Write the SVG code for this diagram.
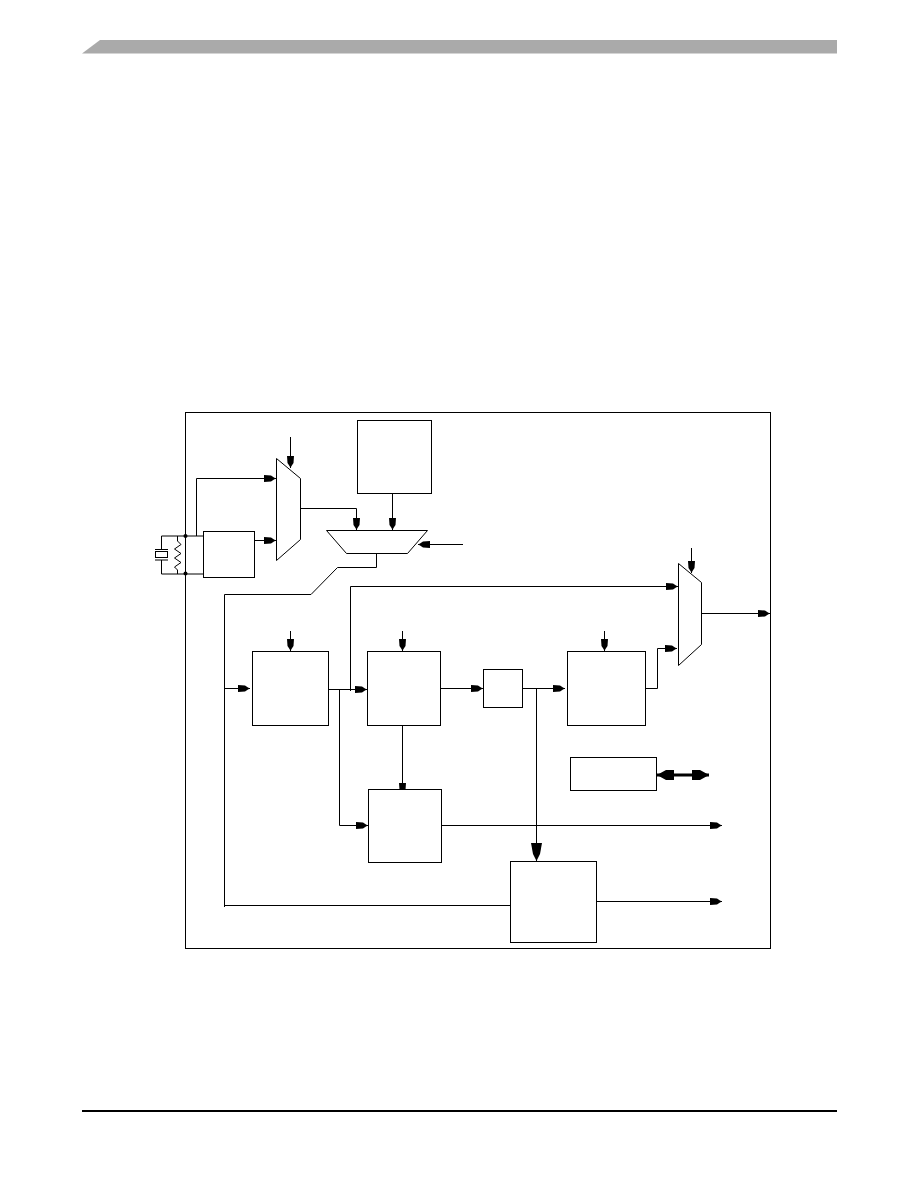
<svg xmlns="http://www.w3.org/2000/svg" width="918" height="1188" viewBox="0 0 918 1188">
<style>
.b{fill:#fff;stroke:#000;stroke-width:1}
.c{fill:none;stroke:#000;stroke-width:1}
.a{marker-end:url(#h)}
.big{marker-end:url(#hb)}
.dbl{fill:none;stroke:#000;stroke-width:3;marker-start:url(#hd);marker-end:url(#hd)}
</style>
<defs>
<marker id="h" markerUnits="userSpaceOnUse" markerWidth="14" markerHeight="10" viewBox="-12 -5 14 10" refX="0" refY="0" orient="auto" overflow="visible"><polygon points="-12,-3.5 -5,-3 -2,-1 0,0 -2,1 -5,3 -12,3.5" fill="#000"/></marker>
<marker id="hb" markerUnits="userSpaceOnUse" markerWidth="20" markerHeight="12" viewBox="-18 -6 20 12" refX="0" refY="0" orient="auto" overflow="visible"><polygon points="-18,-5.5 -7,-3.5 0,0 -7,3.5 -18,5.5" fill="#000"/></marker>
<marker id="hd" markerUnits="userSpaceOnUse" markerWidth="19" markerHeight="12" viewBox="-17 -6 19 12" refX="0" refY="0" orient="auto-start-reverse" overflow="visible"><polygon points="-17,-5 -9,-5 0,0 -9,5 -17,5" fill="#000"/></marker>
</defs>
<rect width="918" height="1188" fill="#fff"/>
<g id="header"><polygon points="82,53.5 100,40 837,40 837,53.5" fill="#aaaaaa"/></g>
<g id="footer"><rect x="82" y="1110" width="755" height="2" fill="#000"/></g>
<g id="frame"><rect class="b" x="185.5" y="412.5" width="585" height="536"/></g>
<g id="connectors">
<path class="c a" d="M290.5 437V468"/>
<path class="c a" d="M196.5 536V478.5H276"/>
<path class="c a" d="M254.5 540.5H276"/>
<path class="c a" d="M300.5 508.5H356.5V530"/>
<path class="c a" d="M392.5 493V530"/>
<path class="c a" d="M463 544.5H418"/>
<path class="c" d="M376.5 553.5V567.5H337.5L311 594.5H224.5V907"/>
<path class="c a" d="M224.5 688.5H250"/>
<path class="c" d="M224 905.5H512"/>
<path class="c a" d="M350.5 691V586.5H678"/>
<path class="c a" d="M290.5 631V651"/>
<path class="c a" d="M402.5 631V651"/>
<path class="c a" d="M327.5 689.5H367"/>
<path class="c a" d="M339.5 689.5V825.5H368"/>
<path class="c a" d="M440.5 688.5H483"/>
<path class="c a" d="M402.5 725.5V795"/>
<path class="c a" d="M441.5 825.5H722"/>
<path class="c a" d="M522.5 688.5H565"/>
<path class="c big" d="M536.5 688.5V861"/>
<path class="c a" d="M595 901.5H722"/>
<path class="c a" d="M604.5 631V651"/>
<path class="c a" d="M645.5 688.5H657.5V648.5H677"/>
<path class="c a" d="M691.5 548V573"/>
<path class="c a" d="M701.5 613.5H770"/>
<path class="dbl" d="M657 775H709"/>
<path class="c" d="M161.5 549.5V536H203M161.5 560V574H203M185.5 412.5V600"/>
</g>
<g id="crystal">
<rect class="c" x="155.5" y="551.5" width="12" height="6"/>
<path class="c" d="M155 549.5H168M155 560H168"/>
<path class="c" d="M177.5 536V541L181 544.5 174.5 549 181 553.5 174.5 558 181 562.5 174.5 567 177.5 570V574"/>
<circle cx="185.5" cy="536" r="2" fill="#000"/>
<circle cx="185.5" cy="573.5" r="2" fill="#000"/>
</g>
<g id="osc"><rect class="b" x="203.5" y="531.5" width="51" height="46"/></g>
<g id="mux1"><polygon class="b" points="276.5,458.5 300.5,478.5 300.5,539.5 276.5,560.5"/></g>
<g id="refbox"><rect class="b" x="357.5" y="420.5" width="74" height="73"/></g>
<g id="mux0"><polygon class="b" points="326.5,530.5 427.5,530.5 407.5,553.5 346.5,553.5"/></g>
<g id="boxA"><rect class="b" x="252.5" y="651.5" width="76" height="74"/></g>
<g id="boxB"><rect class="b" x="367.5" y="651.5" width="73" height="74"/></g>
<g id="boxC"><rect class="b" x="483.5" y="669.5" width="39" height="38"/></g>
<g id="boxD"><rect class="b" x="368.5" y="789.5" width="73" height="73"/></g>
<g id="boxE"><rect class="b" x="510.5" y="861.5" width="86" height="81"/></g>
<g id="boxF"><rect class="b" x="567.5" y="651.5" width="78" height="74"/></g>
<g id="boxG"><rect class="b" x="570.5" y="757.5" width="86" height="33"/></g>
<g id="mux2"><polygon class="b" points="678.5,563.5 701.5,582.5 701.5,644.5 678.5,665.5"/></g>
</svg>
